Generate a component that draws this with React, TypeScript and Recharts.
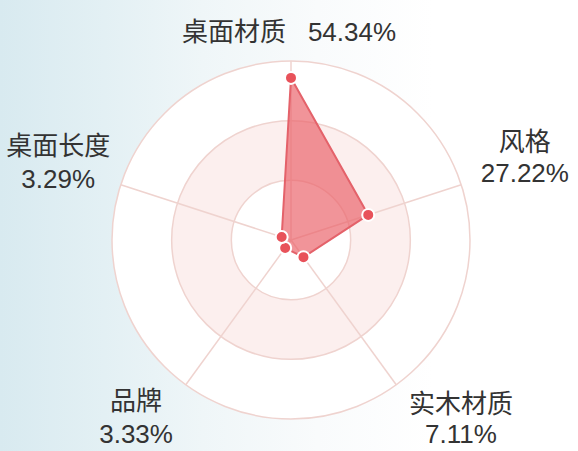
import { PolarAngleAxis, PolarGrid, PolarRadiusAxis, Radar, RadarChart } from "recharts";

const factors = ["桌面材质", "风格", "实木材质", "品牌", "桌面长度"];
const shares = [54.34, 27.22, 7.11, 3.33, 3.29];
const shareText = ["54.34%", "27.22%", "7.11%", "3.33%", "3.29%"];
const radiusDomain = [0, 60];

const W = 578;
const H = 451;
const CX = 291;
const CY = 240;
const R = 179;

// label nudges relative to the axis tick point (x, baseline1, baseline2)
const LABEL_NUDGE = [
  { dx: -2, b1: -12, b2: 0, inline: true },
  { dx: 56, b1: -31, b2: 0 },
  { dx: 60, b1: 22, b2: 52 },
  { dx: -45, b1: 19, b2: 52 },
  { dx: -55, b1: -27, b2: 6 },
];

const FONT = '"Liberation Sans", Arial, "Noto Sans CJK SC", sans-serif';

const data = factors.map((f, i) => ({ factor: f, share: shares[i] }));

function FactorTick(props: any) {
  const { x, y, payload } = props;
  const i = payload.index ?? factors.indexOf(payload.value);
  const n = LABEL_NUDGE[i];
  const style = { fontFamily: FONT, fontSize: 26, fill: "#333333" };
  if (n.inline) {
    return (
      <text x={x + n.dx} y={y + n.b1} textAnchor="middle" style={style}>
        <tspan>{factors[i]}</tspan>
        <tspan dx={22}>{shareText[i]}</tspan>
      </text>
    );
  }
  return (
    <g>
      <text x={x + n.dx} y={y + n.b1} textAnchor="middle" style={style}>
        {factors[i]}
      </text>
      <text x={x + n.dx} y={y + n.b2} textAnchor="middle" style={style}>
        {shareText[i]}
      </text>
    </g>
  );
}

export default function App() {
  return (
    <div
      style={{
        position: "absolute",
        left: 0,
        top: 0,
        width: W,
        height: H,
        overflow: "hidden",
        background:
          "linear-gradient(90deg, #d8eaf0 0%, #e3f0f4 18%, #eff6f8 35%, #f9fbfc 55%, #ffffff 75%)",
      }}
    >
      {/* split areas behind the grid */}
      <svg width={W} height={H} style={{ position: "absolute", left: 0, top: 0 }}>
        <circle cx={CX} cy={CY} r={R} fill="#ffffff" />
        <circle cx={CX} cy={CY} r={(R * 2) / 3} fill="#fcefee" />
        <circle cx={CX} cy={CY} r={R / 3} fill="#ffffff" />
      </svg>
      <div style={{ position: "absolute", left: 0, top: 0 }}>
        <RadarChart
          width={W}
          height={H}
          data={data}
          cx={CX}
          cy={CY}
          outerRadius={R}
          margin={{ top: 0, right: 0, bottom: 0, left: 0 }}
        >
          <PolarGrid gridType="circle" stroke="#efd3cf" strokeWidth={1.5} />
          <PolarRadiusAxis
            domain={radiusDomain}
            tickCount={4}
            axisLine={false}
            tick={false}
          />
          <PolarAngleAxis dataKey="factor" tick={<FactorTick />} tickLine={false} axisLine={false} />
          <Radar
            dataKey="share"
            stroke="#e4626a"
            strokeWidth={2}
            fill="#ea6268"
            fillOpacity={0.68}
            dot={{ r: 6, fill: "#e8525a", stroke: "#ffffff", strokeWidth: 2, fillOpacity: 1 }}
            isAnimationActive={false}
          />
        </RadarChart>
      </div>
    </div>
  );
}
